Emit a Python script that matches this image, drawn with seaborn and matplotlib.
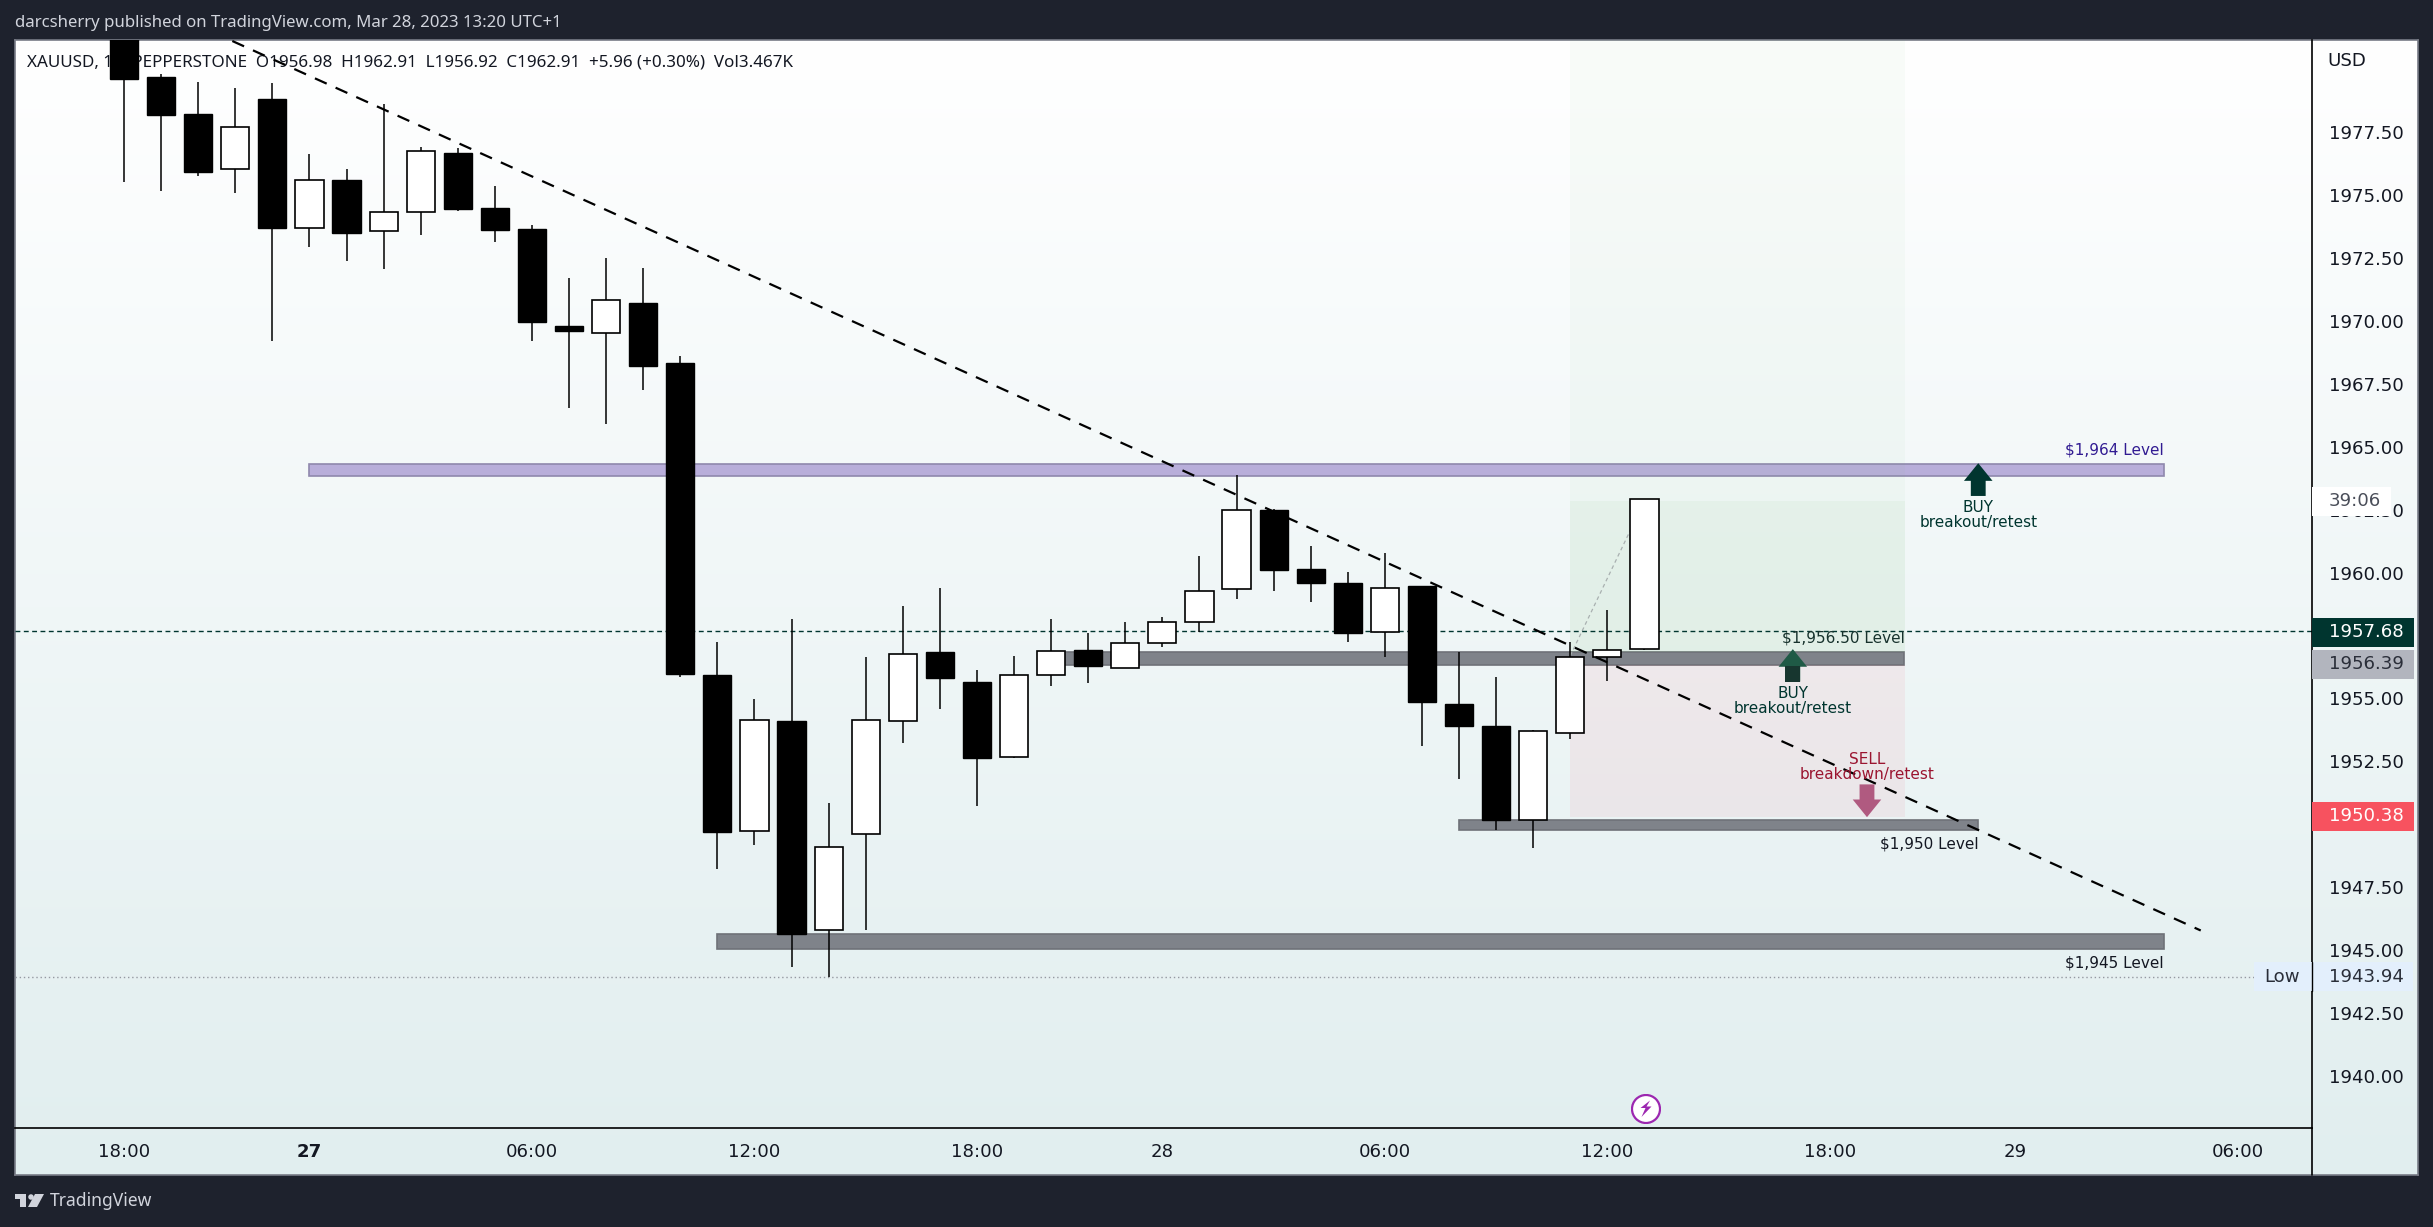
import numpy as np
import pandas as pd
import seaborn as sns
import matplotlib.pyplot as plt
from matplotlib.patches import Rectangle, Polygon, Circle, Ellipse

# hourly candles
opens = [1982.0, 1979.67, 1978.20, 1976.0, 1978.8, 1973.69, 1975.58, 1973.55, 1974.30, 1976.65, 1974.47,
         1973.64, 1969.79, 1969.5, 1970.7, 1968.32, 1955.94, 1949.74, 1954.12, 1945.8, 1949.61, 1954.10,
         1956.86, 1955.66, 1952.67, 1955.92, 1956.93, 1956.21, 1957.19, 1958.03, 1959.33, 1962.47, 1960.13,
         1959.6, 1957.63, 1959.48, 1954.77, 1953.92, 1950.17, 1953.65, 1956.64, 1956.98]
highs = [1982.5, 1979.79, 1979.47, 1979.23, 1979.43, 1976.6, 1976.02, 1978.6, 1976.89, 1976.85, 1975.35,
         1973.8, 1971.69, 1972.49, 1972.09, 1968.6, 1957.26, 1954.99, 1958.16, 1950.87, 1956.66, 1958.68,
         1959.4, 1956.12, 1956.69, 1958.16, 1957.61, 1958.03, 1958.22, 1960.65, 1963.86, 1962.52, 1961.07,
         1960.03, 1960.79, 1959.48, 1956.86, 1955.86, 1953.76, 1957.25, 1958.52, 1962.91]
lows = [1975.52, 1975.15, 1975.75, 1975.08, 1969.2, 1972.94, 1972.38, 1972.06, 1973.4, 1974.37, 1973.14,
        1969.2, 1966.54, 1965.9, 1967.25, 1955.87, 1948.23, 1949.18, 1944.33, 1943.94, 1945.8, 1953.22,
        1954.6, 1950.73, 1952.63, 1955.49, 1955.61, 1956.21, 1957.03, 1957.63, 1958.93, 1959.25, 1958.85,
        1957.26, 1956.64, 1953.12, 1951.82, 1949.78, 1949.08, 1953.41, 1955.68, 1956.92]
closes = [1979.59, 1978.16, 1975.90, 1977.67, 1973.68, 1975.57, 1973.49, 1974.30, 1976.72, 1974.43, 1973.6,
          1969.95, 1969.59, 1970.81, 1968.2, 1955.96, 1949.70, 1954.14, 1945.64, 1949.09, 1954.14, 1956.76,
          1955.81, 1952.63, 1955.92, 1956.87, 1956.28, 1957.19, 1958.03, 1959.27, 1962.47, 1960.12, 1959.60,
          1957.61, 1959.38, 1954.87, 1953.9, 1950.16, 1953.71, 1956.64, 1956.92, 1962.91]

# levels: start bar, end bar, low, high
band_start = [5, 25, 36, 16]
band_end = [55, 48, 50, 55]
band_low = [1963.85, 1956.33, 1949.77, 1945.05]
band_high = [1964.30, 1956.84, 1950.18, 1945.65]
band_colors = ["#b8aeda", "#7f838a", "#7f838a", "#7f838a"]

trend_x = [2.92, 56.0]
trend_y = [1981.1, 1945.79]

xtick_pos = [0, 5, 11, 17, 23, 28, 34, 40, 46, 51, 57]
xtick_labels = ["18:00", "27", "06:00", "12:00", "18:00", "28", "06:00", "12:00", "18:00", "29", "06:00"]
ytick_vals = [1940, 1942.5, 1945, 1947.5, 1950, 1952.5, 1955, 1960, 1962.5, 1965, 1967.5, 1970, 1972.5, 1975, 1977.5]

W, H = 2433, 1227
DARK = "#1e222d"
HEAD_FONT = "Noto Sans"
SCALE_SIZE = 13.1
NOTE_SIZE = 11


def px(x, y):
    return x / W, 1 - y / H


sns.set_theme(style="white")
plt.rcParams["font.family"] = ["DejaVu Sans"]

df = pd.DataFrame({"bar": np.arange(len(opens)), "open": opens, "high": highs, "low": lows, "close": closes})
df["bottom"] = df[["open", "close"]].min(axis=1)
df["body"] = (df["open"] - df["close"]).abs()
df["up"] = df["close"] >= df["open"]

fig = plt.figure(figsize=(W / 100, H / 100), dpi=100, facecolor=DARK)

# light panel with the vertical gradient behind everything
bg = fig.add_axes([15 / W, 1 - 1175 / H, (2418 - 15) / W, (1175 - 40) / H], zorder=0)
grad = np.linspace(0, 1, 256)[:, None, None] * (np.array([0xe1, 0xee, 0xef]) - 255) / 255 + 1
bg.imshow(grad, aspect="auto", extent=[0, 1, 0, 1], interpolation="bilinear")
bg.set_xticks([])
bg.set_yticks([])
for s in bg.spines.values():
    s.set_color("#787b86")
    s.set_linewidth(1.2)

ax = fig.add_axes([15 / W, 1 - 1128 / H, (2312 - 15) / W, (1128 - 40) / H], zorder=1)
ax.patch.set_alpha(0)
ax.set_xlim(-2.94, 59.0)
ax.set_ylim(1937.95, 1981.14)

# legend line sits under the candles
ax.text((27 - 15) / 2297, 1 - (62.7 - 40) / 1088,
        "XAUUSD, 1h  PEPPERSTONE  O1956.98  H1962.91  L1956.92  C1962.91  +5.96 (+0.30%)  Vol3.467K",
        transform=ax.transAxes, fontsize=12.25, family=HEAD_FONT, color="#131722", va="center", ha="left", zorder=1)

for lo, hi, start, end, col in zip(band_low, band_high, band_start, band_end, band_colors):
    ax.add_patch(Rectangle((start, lo), end - start, hi - lo, facecolor=col,
                           edgecolor="#6f7278" if col != "#b8aeda" else "#8f88ad", lw=1.2, zorder=1.2))

# position tool, target and stop zones
ax.fill_between([39, 48.03], 1962.85, 1981.14, color="#70bb6c", alpha=0.04, lw=0, zorder=1.3)
ax.fill_between([39, 48.03], 1956.84, 1962.85, color="#70bb6c", alpha=0.10, lw=0, zorder=1.3)
ax.fill_between([39, 48.03], 1950.3, 1956.32, color="#f03c5a", alpha=0.065, lw=0, zorder=1.3)
ax.plot([39, 41], [1956.7, 1962.85], color="#a9b0b0", lw=0.9, ls=(0, (3, 2.5)), zorder=1.4)

ax.axhline(1957.68, color="#00352f", lw=1.0, ls=(0, (3.5, 2.5)), zorder=1.4)
ax.hlines(1943.94, -2.94, 57.45, color="#9598a1", lw=1.0, ls=(0, (1, 2)), zorder=1.4)

# candles
ax.vlines(df["bar"], df["low"], df["high"], color="black", lw=1.1, zorder=2)
dn = df[~df["up"]]
up = df[df["up"]]
sns.barplot(data=dn, x="bar", y="body", bottom=dn["bottom"].values, native_scale=True, orient="x", color="black",
            saturation=1, width=0.76, errorbar=None, edgecolor="black", linewidth=1.0, zorder=3, ax=ax)
sns.barplot(data=up, x="bar", y="body", bottom=up["bottom"].values, native_scale=True, orient="x", color="white",
            saturation=1, width=0.76, errorbar=None, edgecolor="black", linewidth=1.2, zorder=3, ax=ax)

sns.lineplot(x=trend_x, y=trend_y, color="black", lw=1.6, linestyle=(0, (5.8, 4.4)), errorbar=None, sort=False,
             zorder=4, ax=ax)

# arrows
ax.arrow(50, 1963.04, 0, 1.30, width=0.40, head_width=0.77, head_length=0.70, length_includes_head=True,
         color="#00352f", lw=0, zorder=5)
ax.arrow(45, 1955.67, 0, 1.29, width=0.40, head_width=0.77, head_length=0.70, length_includes_head=True,
         color="#1f5a46", lw=0, zorder=5)
ax.add_patch(Rectangle((44.8, 1955.67), 0.4, 0.63, facecolor="#17362f", edgecolor="none", zorder=5.1))
ax.arrow(47, 1951.59, 0, -1.30, width=0.40, head_width=0.77, head_length=0.70, length_includes_head=True,
         color="#b05a80", lw=0, zorder=5)

# labels
label_kw = dict(fontsize=NOTE_SIZE, zorder=6, va="center")
ax.text(55, 1964.85, "$1,964 Level", color="#311b92", ha="right", **label_kw)
ax.text(48.03, 1957.42, "$1,956.50 Level", color="#17322d", ha="right", **label_kw)
ax.text(50, 1949.21, "$1,950 Level", color="#131722", ha="right", **label_kw)
ax.text(55, 1944.5, "$1,945 Level", color="#131722", ha="right", **label_kw)
label_kw2 = dict(fontsize=NOTE_SIZE, zorder=6, va="center", ha="center", linespacing=1.0)
ax.text(50, 1962.29, "BUY\nbreakout/retest", color="#00352f", **label_kw2)
ax.text(45, 1954.92, "BUY\nbreakout/retest", color="#00352f", **label_kw2)
ax.text(47, 1952.29, "SELL\nbreakdown/retest", color="#9b1530", **label_kw2)

# axes
ax.set_xticks(xtick_pos)
ax.set_xticklabels(xtick_labels)
ax.set_yticks(ytick_vals)
ax.set_yticklabels([f"{v:.2f}" for v in ytick_vals])
ax.yaxis.tick_right()
ax.tick_params(axis="x", length=0, pad=11, labelsize=SCALE_SIZE, labelcolor="#131722")
ax.tick_params(axis="y", length=0, pad=12, labelsize=SCALE_SIZE, labelcolor="#131722")
ax.get_xticklabels()[1].set_fontweight("bold")
ax.set_xlabel("")
ax.set_ylabel("")
for s in ["top", "left"]:
    ax.spines[s].set_visible(False)
for s in ["bottom", "right"]:
    ax.spines[s].set_color("black")
    ax.spines[s].set_linewidth(1.2)

# vertical separator carries on through the time scale
fig.add_artist(plt.Line2D([2312 / W, 2312 / W], [1 - 1128 / H, 1 - 1175 / H], color="black", lw=1.2))

# price tags on the scale
tag_w = 102 / 2297
tag_h = 1.15
tv = ax.get_yaxis_transform()
text_x = 1 + 17 / 2297
tags = [(1962.83, "#ffffff", "39:06", "#4a4e59", 79 / 2297),
        (1957.63, "#00352f", "1957.68", "#ffffff", tag_w),
        (1956.36, "#b2b5be", "1956.39", "#2a2e39", tag_w),
        (1950.33, "#f7525f", "1950.38", "#ffffff", tag_w)]
for val, col, txt, tcol, w in tags:
    ax.add_patch(Rectangle((1.0, val - tag_h / 2), w, tag_h, transform=tv, facecolor=col, edgecolor="none",
                           clip_on=False, zorder=7))
    ax.text(text_x, val, txt, transform=tv, color=tcol, fontsize=SCALE_SIZE, va="center", ha="left", zorder=8,
            clip_on=False)

low_left = (2254 - 15) / 2297
ax.add_patch(Rectangle((low_left, 1943.95 - tag_h / 2), (2413 - 2254) / 2297, tag_h, transform=tv,
                       facecolor="#e3effc", edgecolor="none", clip_on=False, zorder=7))
ax.text(low_left + 28 / 2297, 1943.95, "Low", transform=tv, color="#2a2e39", fontsize=SCALE_SIZE, va="center",
        ha="center", zorder=8, clip_on=False)
ax.text(text_x, 1943.95, "1943.94", transform=tv, color="#2a2e39", fontsize=SCALE_SIZE, va="center", ha="left",
        zorder=8, clip_on=False)
ax.plot([1, 1], [1943.95 - tag_h / 2, 1943.95 + tag_h / 2], transform=tv, color="black", lw=1.0, clip_on=False,
        zorder=8)

fig.text(*px(2327, 61), "USD", color="#131722", fontsize=SCALE_SIZE, va="center", ha="left", zorder=9)

# header and footer
fig.text(*px(15, 23), "darcsherry published on TradingView.com, Mar 28, 2023 13:20 UTC+1", color="#d1d4dc",
         fontsize=12.1, family=HEAD_FONT, va="center", ha="left")
fig.text(*px(50, 1201), "TradingView", color="#d1d4dc", fontsize=12.6, family=HEAD_FONT, va="center", ha="left")

# TradingView logo
logo_t = [(15, 1194), (26, 1194), (26, 1207), (20, 1207), (20, 1199), (15, 1199)]
logo_slash = [(35, 1194), (44, 1194), (37, 1207), (28, 1207)]
for pts in (logo_t, logo_slash):
    fig.add_artist(Polygon([px(*p) for p in pts], closed=True, facecolor="#d1d4dc", edgecolor="none",
                           transform=fig.transFigure))
fig.add_artist(Ellipse(px(31, 1197), 5.5 / W, 5.5 / H, facecolor="#d1d4dc", edgecolor="none",
                       transform=fig.transFigure))

# purple lightning badge
icon_ax = fig.add_axes([1631 / W, 1 - 1124 / H, 30 / W, 30 / H], zorder=9)
icon_ax.set_xlim(0, 30)
icon_ax.set_ylim(30, 0)
icon_ax.axis("off")
icon_ax.add_patch(Circle((15, 15), 14, facecolor="white", edgecolor="#9c27b0", lw=1.6))
icon_ax.add_patch(Polygon([(19, 6.5), (9.5, 14), (14.5, 14), (10.5, 23), (20.5, 12.5), (15.5, 12.5)], closed=True,
                          facecolor="#9c27b0", edgecolor="none"))

fig.savefig("out.png", dpi=100, facecolor=DARK)
